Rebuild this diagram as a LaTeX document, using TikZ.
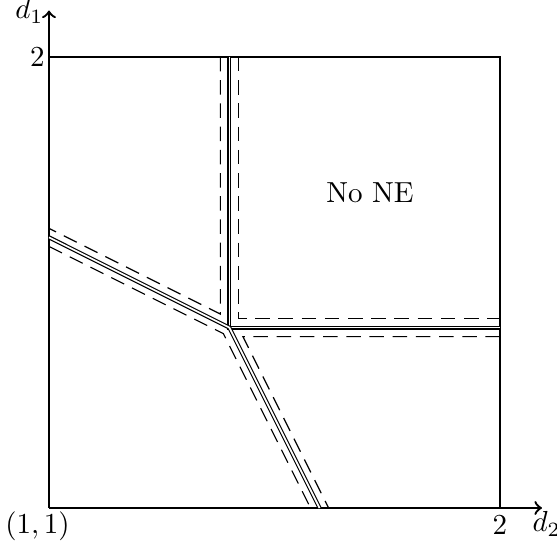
\documentclass[tikz,border=0pt]{standalone}
\usetikzlibrary{calc}
\begin{document}
\begin{tikzpicture}[x=155.5pt,y=155.5pt,
  frame/.style={line width=0.8pt},
  bound/.style={double,double distance=0.6pt,line width=0.4pt},
  offs/.style={line width=0.4pt,dash pattern=on 5pt off 3pt},
  lbl/.style={inner sep=0pt,anchor=base}]
\useasboundingbox (0.8914,0.9069) rectangle (2.1264,2.1264);
% frame and axes
\coordinate (O) at (1,1);
\coordinate (TL) at (1,2);
\coordinate (TR) at (2,2);
\coordinate (BR) at (2,1);
\coordinate (Y) at (1,2.103);
\coordinate (X) at (2.093,1);
\draw[frame] (TL) -- (TR) -- (BR);
\draw[frame,->] (O) -- (Y);
\draw[frame,->] (O) -- (X);
% boundaries
\coordinate (P) at (1.4,1.4);
\coordinate (Vt) at (1.4,2);
\coordinate (Hr) at (2,1.4);
\coordinate (Al) at (1,1.6);
\coordinate (Bb) at (1.6,1);
\draw[bound] (Vt) -- (P) -- (Hr);
\draw[bound] (Al) -- (P) -- (Bb);
% dashed offsets
\coordinate (a1) at (1.38,2);
\coordinate (a2) at (1.38,1.43);
\coordinate (a3) at (1,1.62);
\draw[offs] (a1) -- (a2) -- (a3);
\coordinate (b1) at (1.42,2);
\coordinate (b2) at (1.42,1.42);
\coordinate (b3) at (2,1.42);
\draw[offs] (b1) -- (b2) -- (b3);
\coordinate (c1) at (2,1.38);
\coordinate (c2) at (1.43,1.38);
\coordinate (c3) at (1.62,1);
\draw[offs] (c1) -- (c2) -- (c3);
\coordinate (e1) at (1,1.58);
\coordinate (e2) at (1.38667,1.38667);
\coordinate (e3) at (1.58,1);
\draw[offs] (e1) -- (e2) -- (e3);
% labels
\node[lbl,anchor=base east] (ly) at (0.9889,2.0843) {$d_1$};
\node[lbl,anchor=base west] (lx) at (2.0710,0.9470) {$d_2$};
\node[lbl] (l2x) at (2,0.9420) {$2$};
\node[lbl] (l2y) at (0.9745,1.9800) {$2$};
\node[lbl] (lo) at (0.9745,0.9424) {$(1,1)$};
\node[lbl] (ne) at (1.7118,1.6763) {No NE};
\end{tikzpicture}
\end{document}
